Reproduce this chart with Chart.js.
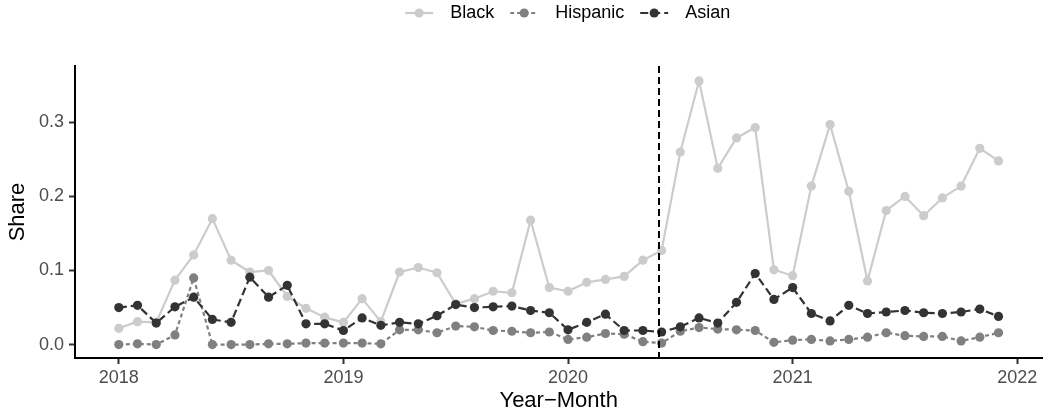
<!DOCTYPE html>
<html>
<head>
<meta charset="utf-8">
<script src="https://cdn.jsdelivr.net/npm/chart.js@4.4.1/dist/chart.umd.min.js"></script>
<style>
    html, body { margin: 0; padding: 0; background: #fff; }
    #wrap { width: 1047px; height: 415px; }
</style>
</head>
<body>
<div id="wrap"><canvas id="chart"></canvas></div>
<script>
// monthly observations, Jan 2018 - Dec 2021
const months = [
    '2018-01','2018-02','2018-03','2018-04','2018-05','2018-06','2018-07','2018-08','2018-09','2018-10','2018-11','2018-12',
    '2019-01','2019-02','2019-03','2019-04','2019-05','2019-06','2019-07','2019-08','2019-09','2019-10','2019-11','2019-12',
    '2020-01','2020-02','2020-03','2020-04','2020-05','2020-06','2020-07','2020-08','2020-09','2020-10','2020-11','2020-12',
    '2021-01','2021-02','2021-03','2021-04','2021-05','2021-06','2021-07','2021-08','2021-09','2021-10','2021-11','2021-12'
];
const black = [
    0.022, 0.031, 0.030, 0.087, 0.121, 0.170, 0.114, 0.098, 0.100, 0.065, 0.049, 0.037,
    0.030, 0.062, 0.031, 0.098, 0.104, 0.097, 0.055, 0.062, 0.072, 0.070, 0.168, 0.077,
    0.072, 0.084, 0.088, 0.092, 0.114, 0.127, 0.260, 0.356, 0.238, 0.279, 0.293, 0.101,
    0.093, 0.214, 0.297, 0.207, 0.086, 0.181, 0.200, 0.174, 0.198, 0.214, 0.265, 0.248
];
const hispanic = [
    0.000, 0.001, 0.000, 0.013, 0.090, 0.000, 0.000, 0.000, 0.001, 0.001, 0.002, 0.002,
    0.002, 0.002, 0.001, 0.020, 0.020, 0.016, 0.025, 0.024, 0.019, 0.018, 0.016, 0.017,
    0.007, 0.010, 0.015, 0.014, 0.004, 0.002, 0.018, 0.023, 0.021, 0.020, 0.019, 0.003,
    0.006, 0.007, 0.005, 0.007, 0.010, 0.016, 0.012, 0.011, 0.011, 0.005, 0.010, 0.016
];
const asian = [
    0.050, 0.053, 0.029, 0.051, 0.064, 0.034, 0.030, 0.091, 0.064, 0.080, 0.028, 0.028,
    0.019, 0.036, 0.026, 0.030, 0.028, 0.039, 0.054, 0.050, 0.051, 0.052, 0.046, 0.043,
    0.020, 0.030, 0.041, 0.019, 0.019, 0.017, 0.024, 0.036, 0.029, 0.057, 0.096, 0.061,
    0.077, 0.042, 0.032, 0.053, 0.042, 0.044, 0.046, 0.043, 0.042, 0.044, 0.048, 0.038
];
const xTicks = [2018, 2019, 2020, 2021, 2022];
const yTicks = [0, 0.1, 0.2, 0.3];
const cutoff = 2020.405;   // dashed vertical marker

const FONT = '"Liberation Sans", Arial, Helvetica, sans-serif';

// "2018-03" -> 2018.1667
const xs = months.map(m => {
    const [y, mo] = m.split('-').map(Number);
    return y + (mo - 1) / 12;
});
const toPoints = vals => vals.map((v, i) => ({x: xs[i], y: v}));

const series = [
    {label: 'Black',    data: black,    color: '#cccccc', dash: [],     order: 3},
    {label: 'Hispanic', data: hispanic, color: '#808080', dash: [4, 3], order: 2},
    {label: 'Asian',    data: asian,    color: '#333333', dash: [8, 4], order: 1}
];

const datasets = series.map(s => ({
    label: s.label,
    data: toPoints(s.data),
    borderColor: s.color,
    backgroundColor: s.color,
    pointBackgroundColor: s.color,
    pointBorderWidth: 0,
    pointRadius: 4.6,
    pointHoverRadius: 4.6,
    borderWidth: 2.2,
    borderDash: s.dash,
    tension: 0,
    order: s.order
}));

// dashed vertical line at the cutoff
const cutoffLine = {
    id: 'cutoffLine',
    afterDatasetsDraw(chart) {
        const {ctx, chartArea, scales} = chart;
        const px = scales.x.getPixelForValue(cutoff);
        ctx.save();
        ctx.strokeStyle = '#000';
        ctx.lineWidth = 2;
        ctx.setLineDash([7, 4]);
        ctx.beginPath();
        ctx.moveTo(px, chartArea.top);
        ctx.lineTo(px, chartArea.bottom);
        ctx.stroke();
        ctx.restore();
    }
};

// ggplot-like legend: line segment + point, then label
const topLegend = {
    id: 'topLegend',
    afterDraw(chart) {
        const {ctx, chartArea} = chart;
        const iconW = 28, gapIcon = 17, gapItem = 16, y = 13;
        ctx.save();
        ctx.font = '18px ' + FONT;
        const widths = series.map(s => ctx.measureText(s.label).width);
        const total = widths.reduce((a, w) => a + iconW + gapIcon + w, 0) + gapItem * (series.length - 1);
        let x = (chartArea.left + chartArea.right) / 2 + 9 - total / 2;
        series.forEach((s, i) => {
            ctx.strokeStyle = s.color;
            ctx.lineWidth = 2.2;
            ctx.setLineDash(s.dash);
            ctx.beginPath();
            ctx.moveTo(x, y);
            ctx.lineTo(x + iconW, y);
            ctx.stroke();
            ctx.setLineDash([]);
            ctx.fillStyle = s.color;
            ctx.beginPath();
            ctx.arc(x + iconW / 2, y, 4.6, 0, Math.PI * 2);
            ctx.fill();
            x += iconW + gapIcon;
            ctx.fillStyle = '#000';
            ctx.textBaseline = 'middle';
            ctx.textAlign = 'left';
            ctx.fillText(s.label, x, y);
            x += widths[i] + gapItem;
        });
        ctx.restore();
    }
};

const axisGrid = {
    drawOnChartArea: false,
    drawTicks: true,
    tickLength: 6,
    tickWidth: 2,
    tickColor: '#333333'
};

new Chart(document.getElementById('chart').getContext('2d'), {
    type: 'line',
    data: {datasets: datasets},
    plugins: [cutoffLine, topLegend],
    options: {
        responsive: true,
        maintainAspectRatio: false,
        animation: false,
        layout: {padding: {top: 66, right: 2, left: 0, bottom: 0}},
        plugins: {
            legend: {display: false},
            tooltip: {enabled: false}
        },
        scales: {
            x: {
                type: 'linear',
                min: 2017.805,
                max: 2022.112,
                afterBuildTicks: scale => { scale.ticks = xTicks.map(v => ({value: v})); },
                afterFit: scale => { scale.height = 57; },
                ticks: {
                    color: '#4d4d4d',
                    padding: 3,
                    maxRotation: 0,
                    font: {family: FONT, size: 18},
                    callback: v => String(v)
                },
                grid: axisGrid,
                border: {display: true, color: '#000', width: 2},
                title: {
                    display: true,
                    text: 'Year\u2212Month',
                    color: '#000',
                    font: {family: FONT, size: 22},
                    padding: {top: 0, bottom: 1}
                }
            },
            y: {
                min: -0.0181,
                max: 0.3761,
                afterBuildTicks: scale => { scale.ticks = yTicks.map(v => ({value: v})); },
                afterFit: scale => { scale.width = 75; },
                ticks: {
                    color: '#4d4d4d',
                    padding: 5,
                    font: {family: FONT, size: 18},
                    callback: v => Number(v).toFixed(1)
                },
                grid: axisGrid,
                border: {display: true, color: '#000', width: 2},
                title: {
                    display: true,
                    text: 'Share',
                    color: '#000',
                    font: {family: FONT, size: 22},
                    padding: {top: 5, bottom: 0}
                }
            }
        }
    }
});
</script>
</body>
</html>
